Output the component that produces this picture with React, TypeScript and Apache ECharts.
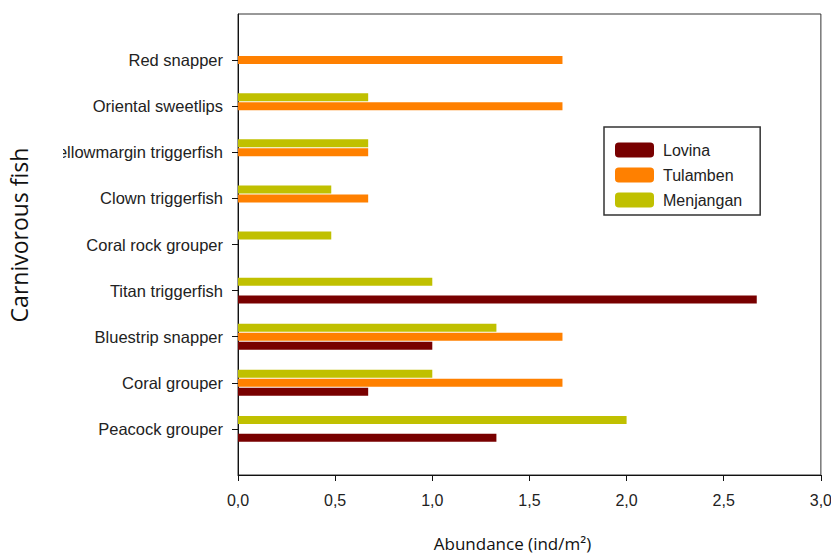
import React, { useEffect, useRef } from "react";
import * as echarts from "echarts";

const categories = [
  "",
  "Peacock grouper",
  "Coral grouper",
  "Bluestrip snapper",
  "Titan triggerfish",
  "Coral rock grouper",
  "Clown triggerfish",
  "Yellowmargin triggerfish",
  "Oriental sweetlips",
  "Red snapper",
  "",
];

const seriesNames = ["Lovina", "Tulamben", "Menjangan"];
const lovina = [null, 1.33, 0.67, 1.0, 2.67, 0, 0, 0, 0, 0, null];
const tulamben = [null, 0, 1.67, 1.67, 0, 0, 0.67, 0.67, 1.67, 1.67, null];
const menjangan = [null, 2.0, 1.0, 1.33, 1.0, 0.48, 0.48, 0.67, 0.67, 0, null];
const colors = ["#780000", "#ff8000", "#c0c000"];
const xTicks = { min: 0, max: 3, interval: 0.5 };

const FONT = "'Liberation Sans', Arial, sans-serif";
const TITLE_FONT = "'Open Sans', sans-serif";

export default function App() {
  const ref = useRef<HTMLDivElement>(null);
  useEffect(() => {
    if (!ref.current) return;
    const chart = echarts.init(ref.current, undefined, { renderer: "svg" });
    const values = [lovina, tulamben, menjangan];
    // horizontal bars: first series is drawn on top, so reverse the order
    const order = [2, 1, 0];
    chart.setOption({
      animation: false,
      backgroundColor: "#ffffff",
      grid: {
        left: 238,
        right: 10,
        top: 14,
        bottom: 82,
        show: true,
        borderColor: "#333",
        borderWidth: 1,
        backgroundColor: "transparent",
      },
      legend: {
        orient: "vertical",
        left: 604,
        top: 127,
        padding: [15, 18, 7, 11],
        itemWidth: 39,
        itemHeight: 15,
        itemGap: 9,
        icon: "roundRect",
        borderColor: "#333",
        borderWidth: 1.5,
        backgroundColor: "#fff",
        data: seriesNames,
        textStyle: {
          fontFamily: FONT,
          fontSize: 16,
          color: "#222",
          lineHeight: 15,
          padding: [0, 0, 0, 4],
        },
      },
      xAxis: {
        type: "value",
        min: xTicks.min,
        max: xTicks.max,
        interval: xTicks.interval,
        name: "Abundance (ind/m²)",
        nameLocation: "middle",
        nameGap: 60,
        nameTextStyle: {
          fontFamily: TITLE_FONT,
          fontSize: 17,
          color: "#111",
          padding: [0, 34, 0, 0],
        },
        axisLine: { show: true, lineStyle: { color: "#111", width: 1 } },
        axisTick: { show: true, length: 6, lineStyle: { color: "#111" } },
        axisLabel: {
          fontFamily: FONT,
          fontSize: 16,
          color: "#222",
          margin: 17,
          formatter: (v: number) => v.toFixed(1).replace(".", ","),
        },
        splitLine: { show: false },
      },
      yAxis: {
        type: "category",
        data: categories,
        boundaryGap: false,
        axisLine: { show: true, lineStyle: { color: "#111", width: 1 } },
        axisTick: {
          show: true,
          length: 6,
          lineStyle: { color: "#111" },
          interval: (i: number, v: string) => v !== "",
        },
        axisLabel: {
          fontFamily: FONT,
          fontSize: 16.5,
          color: "#222",
          margin: 15,
          interval: 0,
        },
        splitLine: { show: false },
      },
      graphic: [
        {
          type: "rect",
          z: 100,
          shape: { x: 0, y: 135, width: 63, height: 200 },
          style: { fill: "#fff" },
        },
        {
          type: "rect",
          z: 100,
          shape: { x: 831, y: 485, width: 4, height: 30 },
          style: { fill: "#fff" },
        },
        {
          type: "text",
          z: 101,
          x: 19,
          y: 235,
          rotation: Math.PI / 2,
          style: {
            text: "Carnivorous fish",
            fontFamily: TITLE_FONT,
            fontSize: 23,
            fill: "#111",
            align: "center",
            verticalAlign: "middle",
          },
        },
      ],
      series: order.map((i) => ({
        name: seriesNames[i],
        type: "bar",
        data: values[i],
        barWidth: 8,
        barGap: "12%",
        itemStyle: { color: colors[i] },
      })),
    });
    return () => chart.dispose();
  }, []);
  return (
    <div
      ref={ref}
      style={{ position: "fixed", left: 0, top: 0, width: 835, height: 557 }}
    />
  );
}
